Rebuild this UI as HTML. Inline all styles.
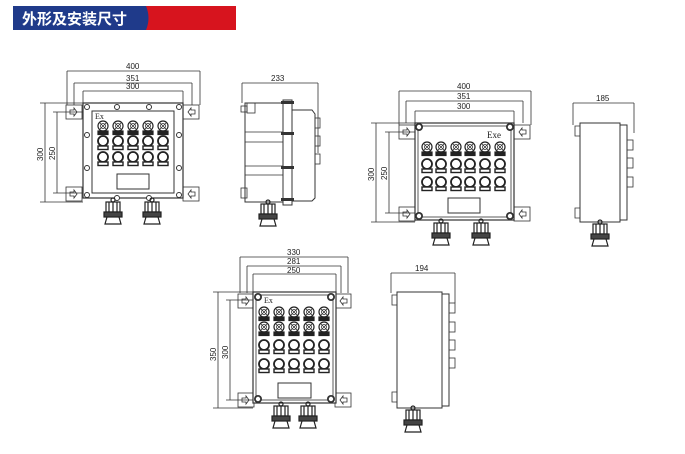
<!DOCTYPE html>
<html><head><meta charset="utf-8"><style>
html,body{margin:0;padding:0;background:#fff;width:685px;height:454px;overflow:hidden}
svg{display:block}
text{font-family:"Liberation Sans",sans-serif;font-size:8px;fill:#222}
</style></head><body>
<svg width="685" height="454" viewBox="0 0 685 454" xmlns="http://www.w3.org/2000/svg">
<defs>
<g id="bA" fill="none" stroke="#222" stroke-width="1.2"><circle cx="0" cy="-1" r="5"/><path d="M-3-4L3 2M3-4L-3 2" stroke-width=".7"/><circle cx="0" cy="-1" r="2.5" stroke-width=".7"/><rect x="-5" y="4" width="10" height="3.5" fill="#222"/></g>
<g id="bB" fill="none" stroke="#222" stroke-width="1.8"><circle cx="0" cy="-1" r="5"/><rect x="-5" y="4" width="10" height="3.5" fill="#fff" stroke-width="1.4"/></g>
<g id="gl" fill="none" stroke="#222" stroke-width="1.2"><circle cx="0" cy="2" r="2"/><rect x="-7" y="4" width="14" height="10"/><path d="M-4 4v10M0 4v10M4 4v10"/><rect x="-9" y="14" width="18" height="5" fill="#444"/><path d="M-6 19l-2 7h16l-2-7"/></g>
<g id="bolt"><circle r="4" fill="#333"/><circle r="2.2" fill="#fff"/></g>
<g id="earL" fill="none" stroke="#333" stroke-width=".8"><rect x="0" y="0" width="16" height="14"/><path d="M4 5h4v-2l3 4-3 4v-2h-4z"/></g>
<g id="earR" fill="none" stroke="#333" stroke-width=".8"><rect x="0" y="0" width="16" height="14"/><path d="M12 5h-4v-2l-3 4 3 4v-2h4z"/></g>
</defs>

<rect x="13" y="6" width="136" height="24" fill="#1f3a8a"/>
<path d="M146 6h90v24h-90q5-12 0-24z" fill="#d7141e"/>
<text x="22" y="24" style="font-family:'Liberation Sans','Noto Sans CJK SC',sans-serif;font-size:15px;font-weight:bold;fill:#fff">外形及安装尺寸</text>

<g fill="none" stroke="#333" stroke-width=".8">
<path d="M67 71h133M67 71v34M200 71v34M74 83h118M74 83v22M192 83v22M83 91h100M83 91v12M183 91v12"/>
<path d="M45 103v99M40 103h43M40 202h43M57 112v81M53 112h30M53 193h30"/>
</g>
<text x="126" y="69">400</text><text x="126" y="81">351</text><text x="126" y="89">300</text>
<text transform="translate(43,161) rotate(-90)">300</text><text transform="translate(55,160) rotate(-90)">250</text>
<use href="#earL" x="66" y="105"/><use href="#earR" x="183" y="105"/>
<use href="#earL" x="66" y="187"/><use href="#earR" x="183" y="187"/>
<rect x="83" y="103" width="100" height="95" fill="#fff" stroke="#333" stroke-width="1.2"/>
<rect x="92" y="111" width="82" height="82" fill="none" stroke="#333" stroke-width="1"/>
<g fill="#fff" stroke="#333" stroke-width="1"><circle cx="87" cy="107" r="2.5"/><circle cx="117" cy="107" r="2.5"/><circle cx="149" cy="107" r="2.5"/><circle cx="179" cy="107" r="2.5"/><circle cx="87" cy="135" r="2.5"/><circle cx="179" cy="135" r="2.5"/><circle cx="87" cy="168" r="2.5"/><circle cx="179" cy="168" r="2.5"/><circle cx="87" cy="195" r="2.5"/><circle cx="117" cy="198" r="2.5"/><circle cx="149" cy="198" r="2.5"/><circle cx="179" cy="195" r="2.5"/></g>
<text x="95" y="119" style="font-family:'Liberation Serif',serif;font-size:8px">Ex</text>
<use href="#bA" x="103" y="127"/><use href="#bA" x="118" y="127"/><use href="#bA" x="133" y="127"/><use href="#bA" x="148" y="127"/><use href="#bA" x="163" y="127"/>
<use href="#bB" x="103" y="142"/><use href="#bB" x="118" y="142"/><use href="#bB" x="133" y="142"/><use href="#bB" x="148" y="142"/><use href="#bB" x="163" y="142"/>
<use href="#bB" x="103" y="158"/><use href="#bB" x="118" y="158"/><use href="#bB" x="133" y="158"/><use href="#bB" x="148" y="158"/><use href="#bB" x="163" y="158"/>
<rect x="117" y="174" width="32" height="15" fill="none" stroke="#333"/>
<use href="#gl" x="113" y="198"/><use href="#gl" x="152" y="198"/>

<g fill="none" stroke="#333" stroke-width=".8">
<path d="M242 83h76M242 83v20M318 83v70"/>
<rect x="245" y="103" width="38" height="99" stroke-width="1"/>
<rect x="283" y="100" width="9" height="105" stroke-width="1"/>
<path d="M292 110h20l3 4v84l-3 3h-20" stroke-width="1"/>
<path d="M245 132h38M245 142h38M245 166h38M245 175h38"/>
<rect x="315" y="118" width="5" height="10"/><rect x="315" y="136" width="5" height="10"/><rect x="315" y="154" width="5" height="10"/>
<rect x="247" y="103" width="8" height="10"/><rect x="241" y="106" width="6" height="6"/><rect x="241" y="188" width="6" height="10"/>
</g>
<g fill="#333"><rect x="281" y="101" width="13" height="3"/><rect x="281" y="132" width="13" height="3"/><rect x="281" y="166" width="13" height="3"/><rect x="281" y="198" width="13" height="3"/></g>
<text x="271" y="81">233</text>
<use href="#gl" x="268" y="200"/>

<g fill="none" stroke="#333" stroke-width=".8">
<path d="M399 91h132M399 91v34M531 91v34M406 101h117M406 101v22M523 101v22M415 111h99M415 111v12M514 111v12"/>
<path d="M376 123v99M371 123h44M371 222h44M389 132v81M385 132h30M385 213h30"/>
</g>
<text x="457" y="89">400</text><text x="457" y="99">351</text><text x="457" y="109">300</text>
<text transform="translate(374,181) rotate(-90)">300</text><text transform="translate(387,180) rotate(-90)">250</text>
<use href="#earL" x="399" y="125"/><use href="#earR" x="514" y="125"/>
<use href="#earL" x="399" y="207"/><use href="#earR" x="514" y="207"/>
<rect x="415" y="123" width="99" height="97" fill="#fff" stroke="#333" stroke-width="1.2"/>
<rect x="418" y="126" width="93" height="91" fill="none" stroke="#333" stroke-width=".8"/>
<use href="#bolt" x="419" y="127"/><use href="#bolt" x="510" y="127"/><use href="#bolt" x="419" y="216"/><use href="#bolt" x="510" y="216"/>
<text x="487" y="138" style="font-family:'Liberation Serif',serif;font-size:9px">Exe</text>
<use href="#bA" x="427" y="148"/><use href="#bA" x="441" y="148"/><use href="#bA" x="456" y="148"/><use href="#bA" x="470" y="148"/><use href="#bA" x="485" y="148"/><use href="#bA" x="500" y="148"/>
<use href="#bB" x="427" y="165"/><use href="#bB" x="441" y="165"/><use href="#bB" x="456" y="165"/><use href="#bB" x="470" y="165"/><use href="#bB" x="485" y="165"/><use href="#bB" x="500" y="165"/>
<use href="#bB" x="427" y="183"/><use href="#bB" x="441" y="183"/><use href="#bB" x="456" y="183"/><use href="#bB" x="470" y="183"/><use href="#bB" x="485" y="183"/><use href="#bB" x="500" y="183"/>
<rect x="448" y="198" width="32" height="15" fill="none" stroke="#333"/>
<use href="#gl" x="441" y="219"/><use href="#gl" x="481" y="219"/>

<g fill="none" stroke="#333" stroke-width=".8">
<path d="M573 103h61M573 103v22M634 103v30"/>
<rect x="580" y="123" width="40" height="99" stroke-width="1"/>
<rect x="620" y="125" width="7" height="95" stroke-width="1"/>
<rect x="627" y="140" width="6" height="10"/><rect x="627" y="158" width="6" height="10"/><rect x="627" y="177" width="6" height="10"/>
<path d="M580 126h-5v10h5M580 208h-5v10h5"/>
</g>
<use href="#gl" x="600" y="220"/>
<text x="596" y="101">185</text>

<g fill="none" stroke="#333" stroke-width=".8">
<path d="M240 257h108M240 257v36M348 257v36M247 266h94M247 266v27M341 266v27M253 274h83M253 274v18M336 274v18"/>
<path d="M218 292v116M213 292h40M213 408h40M230 300v100M226 300h27M226 400h27"/>
</g>
<text x="287" y="255">330</text><text x="287" y="264">281</text><text x="287" y="273">250</text>
<text transform="translate(216,361) rotate(-90)">350</text><text transform="translate(228,359) rotate(-90)">300</text>
<use href="#earL" x="238" y="294"/><use href="#earR" x="335" y="294"/>
<use href="#earL" x="238" y="393"/><use href="#earR" x="335" y="393"/>
<rect x="253" y="292" width="83" height="111" fill="#fff" stroke="#333" stroke-width="1.2"/>
<rect x="256" y="295" width="77" height="105" fill="none" stroke="#333" stroke-width=".8"/>
<use href="#bolt" x="258" y="297"/><use href="#bolt" x="331" y="297"/><use href="#bolt" x="258" y="399"/><use href="#bolt" x="331" y="399"/>
<text x="264" y="303" style="font-family:'Liberation Serif',serif;font-size:8px">Ex</text>
<use href="#bA" x="264" y="313"/><use href="#bA" x="279" y="313"/><use href="#bA" x="294" y="313"/><use href="#bA" x="309" y="313"/><use href="#bA" x="324" y="313"/>
<use href="#bA" x="264" y="328"/><use href="#bA" x="279" y="328"/><use href="#bA" x="294" y="328"/><use href="#bA" x="309" y="328"/><use href="#bA" x="324" y="328"/>
<use href="#bB" x="264" y="346"/><use href="#bB" x="279" y="346"/><use href="#bB" x="294" y="346"/><use href="#bB" x="309" y="346"/><use href="#bB" x="324" y="346"/>
<use href="#bB" x="264" y="365"/><use href="#bB" x="279" y="365"/><use href="#bB" x="294" y="365"/><use href="#bB" x="309" y="365"/><use href="#bB" x="324" y="365"/>
<rect x="278" y="383" width="33" height="15" fill="none" stroke="#333"/>
<use href="#gl" x="281" y="402"/><use href="#gl" x="308" y="402"/>

<g fill="none" stroke="#333" stroke-width=".8">
<path d="M391 273h64M391 273v20M455 273v30"/>
<rect x="397" y="292" width="45" height="116" stroke-width="1"/>
<rect x="442" y="294" width="7" height="112" stroke-width="1"/>
<rect x="449" y="303" width="6" height="10"/><rect x="449" y="322" width="6" height="10"/><rect x="449" y="340" width="6" height="10"/><rect x="449" y="358" width="6" height="10"/>
<path d="M397 295h-5v10h5M397 392h-5v10h5"/>
</g>
<use href="#gl" x="413" y="406"/>
<text x="415" y="271">194</text>
</svg>
</body></html>
